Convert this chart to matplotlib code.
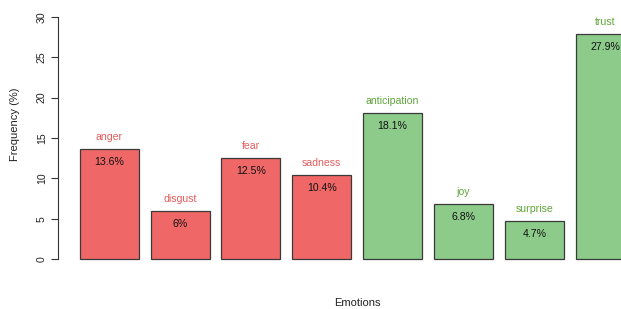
import matplotlib
matplotlib.use("Agg")
import matplotlib.pyplot as plt

emotions = ["anger", "disgust", "fear", "sadness", "anticipation", "joy", "surprise", "trust"]
freq = [13.6, 6.0, 12.5, 10.4, 18.1, 6.8, 4.7, 27.9]
pct_labels = ["13.6%", "6%", "12.5%", "10.4%", "18.1%", "6.8%", "4.7%", "27.9%"]
groups = ["neg", "neg", "neg", "neg", "pos", "pos", "pos", "pos"]

bar_colors = {"neg": "#EF6767", "pos": "#8CCB8A"}
label_colors = {"neg": "#E45C5C", "pos": "#5FA63A"}

plt.rcParams['font.family'] = ['Liberation Sans', 'DejaVu Sans']

W, H = 621, 309
fig = plt.figure(figsize=(W / 100, H / 100), dpi=100)
ax_left = 58 / W
ax_bottom = (H - 259) / H
ax_top = (H - 17) / H
ax = fig.add_axes([ax_left, ax_bottom, 1 - ax_left, ax_top - ax_bottom])

lefts = [0.2 + 1.2 * i for i in range(len(freq))]
centers = [l + 0.5 for l in lefts]
ax.bar(centers, freq, width=1.0,
       color=[bar_colors[g] for g in groups],
       edgecolor="#3a3a3a", linewidth=0.9, clip_on=False)

for c, v, e, p, g in zip(centers, freq, emotions, pct_labels, groups):
    ax.text(c, v + 1.5, e, ha="center", va="center", fontsize=7.6,
            color=label_colors[g], clip_on=False)
    ax.text(c, v - 1.6, p, ha="center", va="center", fontsize=7.6,
            color="#111111", clip_on=False)

ax.set_xlim(-0.17, (W - 68.2) / 59.0)
ax.set_ylim(0, 30)
for s in ["top", "right", "bottom"]:
    ax.spines[s].set_visible(False)
ax.spines["left"].set_bounds(0, 30)
ax.spines["left"].set_color("#333333")
ax.spines["left"].set_linewidth(0.8)
ax.set_xticks([])
ax.set_yticks([0, 5, 10, 15, 20, 25, 30])
ax.tick_params(axis="y", length=5, width=0.8, color="#333333", labelsize=7.6,
               labelcolor="#222222", pad=3)
for lab in ax.get_yticklabels():
    lab.set_rotation(90)
    lab.set_va("center")

fig.text(15 / W, 1 - 124 / H, "Frequency (%)", rotation=90, ha="center", va="center",
         fontsize=8, color="#222222")
fig.text(357 / W, 1 - 303 / H, "Emotions", ha="center", va="center",
         fontsize=8, color="#222222")

fig.savefig("out.png", dpi=100)
